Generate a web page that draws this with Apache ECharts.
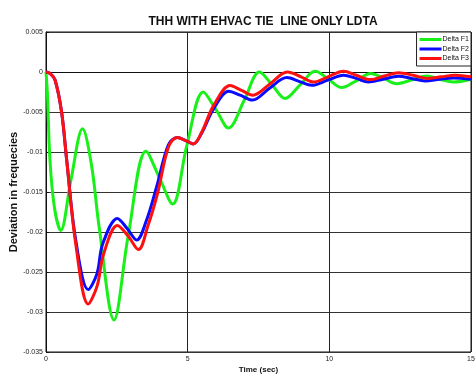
<!DOCTYPE html>
<html>
<head>
<meta charset="utf-8">
<script src="https://cdn.jsdelivr.net/npm/echarts@6/dist/echarts.min.js"></script>
<style>
  html, body { margin: 0; padding: 0; background: #fff; }
  #chart { width: 475px; height: 374px; }
</style>
</head>
<body>
<div id="chart"></div>
<script>
// Frequency deviation after the disturbance, three areas, [time (s), deviation]
const deltaF1 = [
  [0, 0], [0.05, -0.0027], [0.14, -0.011], [0.3, -0.017], [0.52, -0.0198],
  [0.88, -0.0135], [1.29, -0.0071], [1.6, -0.0115], [1.88, -0.0195],
  [2.4, -0.0310], [2.9, -0.0205], [3.53, -0.0099], [4.0, -0.0132],
  [4.47, -0.0165], [4.97, -0.0092], [5.55, -0.0025], [6.0, -0.0047],
  [6.44, -0.0070], [7.0, -0.0035], [7.53, 0], [8.0, -0.0017], [8.44, -0.0033],
  [8.97, -0.0016], [9.5, 0.0001], [9.97, -0.0009], [10.44, -0.00195],
  [10.95, -0.0011], [11.46, -0.0002], [11.92, -0.0008], [12.38, -0.00146],
  [12.9, -0.001], [13.44, -0.0005], [13.9, -0.0009], [14.37, -0.00125],
  [15, -0.0009]
];
const deltaF2 = [
  [0, 0], [0.15, -0.0002], [0.32, -0.001], [0.55, -0.005], [0.73, -0.011],
  [1.05, -0.021], [1.49, -0.0272], [1.8, -0.0252], [2.0, -0.0215],
  [2.52, -0.0183], [2.85, -0.0195], [3.2, -0.0210], [3.55, -0.0185],
  [3.9, -0.0144], [4.32, -0.0091], [4.63, -0.0082], [4.95, -0.0086],
  [5.2, -0.0090], [5.5, -0.0076], [5.9, -0.0047], [6.45, -0.0024],
  [6.85, -0.0029], [7.29, -0.0035], [7.9, -0.002], [8.5, -0.0007],
  [8.95, -0.0012], [9.38, -0.00166], [9.95, -0.001], [10.5, -0.0004],
  [10.95, -0.0008], [11.38, -0.00125], [11.9, -0.0009], [12.44, -0.00054],
  [12.9, -0.0008], [13.38, -0.00112], [13.9, -0.0009], [14.38, -0.00075],
  [15, -0.0009]
];
const deltaF3 = [
  [0, 0], [0.15, -0.0002], [0.32, -0.001], [0.55, -0.005], [0.73, -0.011],
  [1.05, -0.0215], [1.49, -0.0290], [1.8, -0.0268], [2.03, -0.0228],
  [2.52, -0.0192], [2.9, -0.0205], [3.26, -0.0222], [3.6, -0.0192],
  [3.95, -0.0150], [4.32, -0.0094], [4.63, -0.0082], [4.95, -0.0086],
  [5.2, -0.0090], [5.5, -0.0075], [5.9, -0.0043], [6.5, -0.0017],
  [6.9, -0.0023], [7.3, -0.0029], [7.9, -0.0015], [8.52, 0],
  [9.0, -0.0006], [9.44, -0.00125], [9.95, -0.0006], [10.5, 0.0001],
  [10.95, -0.0004], [11.44, -0.00095], [11.95, -0.0005], [12.44, -0.0001],
  [12.95, -0.0004], [13.44, -0.0008], [13.95, -0.0006], [14.44, -0.0004],
  [15, -0.0006]
];

const seriesNames = ['Delta F1', 'Delta F2', 'Delta F3'];
const seriesColors = ['#19f019', '#0a0aff', '#ff1010'];
const xTicks = [0, 5, 10, 15];
const yTicks = [0.005, 0, -0.005, -0.01, -0.015, -0.02, -0.025, -0.03, -0.035];

const FONT = '"Liberation Sans", Arial, sans-serif';
const chart = echarts.init(document.getElementById('chart'), null, { renderer: 'canvas' });

const makeSeries = (name, data, color) => ({
  name, type: 'line', data, smooth: 0.35, showSymbol: false, symbol: 'none',
  lineStyle: { color, width: 3 }, itemStyle: { color }, z: 3
});

chart.setOption({
  animation: false,
  backgroundColor: '#fff',
  title: {
    text: 'THH WITH EHVAC TIE  LINE ONLY LDTA',
    left: 258, top: 11, textAlign: 'center',
    textStyle: { fontFamily: FONT, fontSize: 12, fontWeight: 'bold', color: '#111' }
  },
  grid: {
    left: 46, right: 4, top: 32, bottom: 22,
    containLabel: false, outerBoundsMode: 'none',
    show: true, borderColor: '#111', borderWidth: 1, backgroundColor: 'transparent'
  },
  legend: {
    data: seriesNames.map((n, i) => ({ name: n, itemStyle: { color: seriesColors[i] } })),
    orient: 'vertical', right: 4, top: 32,
    icon: 'rect', itemWidth: 22, itemHeight: 3, itemGap: 2.5,
    padding: [4, 2, 4, 3],
    borderColor: '#222', borderWidth: 1, backgroundColor: '#fff',
    textStyle: { fontFamily: FONT, fontSize: 7, color: '#111', padding: [0, 0, 0, -4] }
  },
  xAxis: {
    type: 'value', min: 0, max: 15, interval: 5,
    name: 'Time (sec)', nameLocation: 'middle', nameGap: 14, nameMoveOverlap: false,
    nameTextStyle: { fontFamily: FONT, fontSize: 8, fontWeight: 'bold', color: '#111' },
    axisLine: { show: true, lineStyle: { color: '#111', width: 1 } },
    axisTick: { show: true, inside: true, length: 3, lineStyle: { color: '#111' } },
    axisLabel: {
      fontFamily: FONT, fontSize: 7, color: '#222', margin: 4,
      formatter: v => xTicks.includes(v) ? String(v) : ''
    },
    splitLine: { show: true, lineStyle: { color: '#222', width: 1 } }
  },
  yAxis: {
    type: 'value', min: -0.035, max: 0.005, interval: 0.005,
    name: 'Deviation in frequecies', nameLocation: 'middle', nameGap: 27, nameRotate: 90,
    nameMoveOverlap: false,
    nameTextStyle: { fontFamily: FONT, fontSize: 11, fontWeight: 'bold', color: '#111' },
    axisLine: { show: true, lineStyle: { color: '#111', width: 1 } },
    axisTick: { show: true, inside: true, length: 3, lineStyle: { color: '#111' } },
    axisLabel: {
      fontFamily: FONT, fontSize: 7, color: '#222', margin: 3,
      formatter: v => {
        const t = yTicks.find(y => Math.abs(y - v) < 1e-9);
        return t === undefined ? '' : String(t);
      }
    },
    splitLine: { show: true, lineStyle: { color: '#333', width: 1 } }
  },
  series: [
    makeSeries(seriesNames[0], deltaF1, seriesColors[0]),
    makeSeries(seriesNames[1], deltaF2, seriesColors[1]),
    makeSeries(seriesNames[2], deltaF3, seriesColors[2])
  ]
});
</script>
</body>
</html>
